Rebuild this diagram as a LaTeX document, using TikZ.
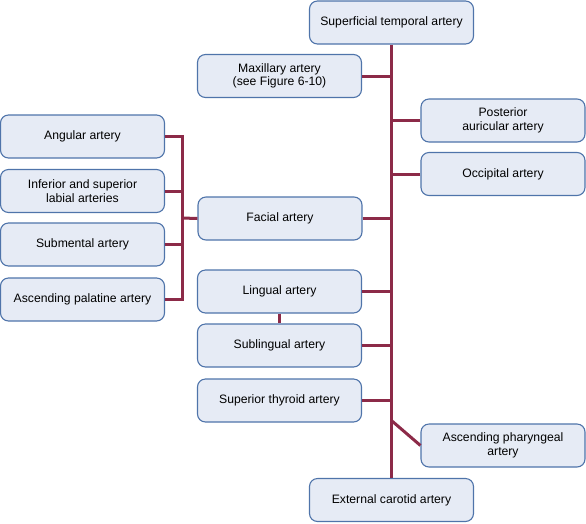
\documentclass[tikz,border=0pt]{standalone}
\usepackage{fontspec}
\setmainfont{Liberation Sans}
\definecolor{boxfill}{HTML}{E6EBF5}
\definecolor{boxline}{HTML}{4F74AA}
\definecolor{artery}{HTML}{8C2A48}
\begin{document}
\begin{tikzpicture}[x=1pt,y=-1pt,
  box/.style={draw=boxline, fill=boxfill, line width=1.1pt, rounded corners=8pt,
    minimum width=164pt, minimum height=43pt, inner sep=0pt, align=center,
    font=\fontsize{12.2}{13.6}\selectfont},
  vessel/.style={draw=artery, line width=3pt}]
\useasboundingbox (0,0) rectangle (586,523);
\node[box] (sta) at (391.5,22.5) {Superficial temporal artery};
\node[box] (max) at (279.5,76) {Maxillary artery\\(see Figure 6-10)};
\node[box] (pa) at (503,120.5) {Posterior\\auricular artery};
\node[box] (occ) at (503,174) {Occipital artery};
\node[box] (ang) at (82.5,136.5) {Angular artery};
\node[box] (lab) at (82.5,191) {Inferior and superior\\labial arteries};
\node[box] (sm) at (82.5,244.5) {Submental artery};
\node[box] (pal) at (82.5,299.5) {Ascending palatine artery};
\node[box] (fac) at (280,218.5) {Facial artery};
\node[box] (lin) at (279.5,291.5) {Lingual artery};
\node[box] (sub) at (279.5,345.5) {Sublingual artery};
\node[box] (thy) at (279.5,400.5) {Superior thyroid artery};
\node[box] (aph) at (503,445.5) {Ascending pharyngeal\\artery};
\node[box] (eca) at (391.5,500) {External carotid artery};
\coordinate (bus) at (182,218);
\coordinate (split) at (392,421);
\begin{scope}[on background layer/.style={}]
\draw[vessel] (sta.south) -- (eca.north);
\draw[vessel] (max.east) -- (max.east -| sta.south);
\draw[vessel] (pa.west) -- (pa.west -| sta.south);
\draw[vessel] (occ.west) -- (occ.west -| sta.south);
\draw[vessel] (fac.east) -- (fac.east -| sta.south);
\draw[vessel] (lin.east) -- (lin.east -| sta.south);
\draw[vessel] (sub.east) -- (sub.east -| sta.south);
\draw[vessel] (thy.east) -- (thy.east -| sta.south);
\draw[vessel] (split) -- (aph.west);
\draw[vessel] (lin.south) -- (sub.north);
\draw[vessel] (ang.east) -| (bus) |- (pal.east);
\draw[vessel] (lab.east) -- (lab.east -| bus);
\draw[vessel] (sm.east) -- (sm.east -| bus);
\draw[vessel] (fac.west) -- (bus);
\end{scope}
\end{tikzpicture}
\end{document}
